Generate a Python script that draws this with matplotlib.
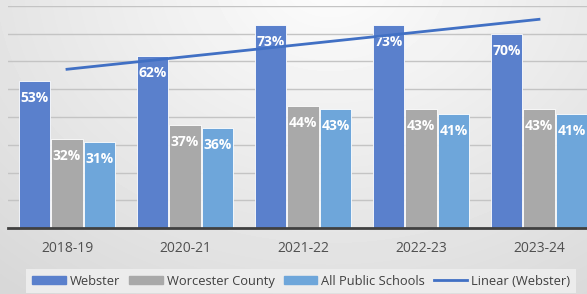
import numpy as np
import matplotlib
matplotlib.use('Agg')
from matplotlib import pyplot as plt
from matplotlib.patches import Patch
from matplotlib.lines import Line2D

plt.rcParams['font.family'] = ['Open Sans', 'DejaVu Sans']

years = ['2018-19', '2020-21', '2021-22', '2022-23', '2023-24']
webster = [53, 62, 73, 73, 70]
worcester = [32, 37, 44, 43, 43]
all_public = [31, 36, 43, 41, 41]

c_web = '#5a80cc'
c_wor = '#a9a9a9'
c_all = '#6ea6da'
c_trend = '#4170c4'

fig = plt.figure(figsize=(5.87, 2.94), dpi=100)

# background gradient
bg = fig.add_axes([0, 0, 1, 1], zorder=0)
yy, xx = np.mgrid[0:294, 0:587]
r = np.sqrt(((xx - 330) / 420.0) ** 2 + ((yy + 20) / 330.0) ** 2)
shade = 0.99 - 0.12 * np.clip(r, 0, 1.2)
bg.imshow(shade, cmap='gray', vmin=0, vmax=1, aspect='auto',
          extent=[0, 1, 0, 1], origin='upper')
bg.axis('off')

ax = fig.add_axes([8 / 587, 66 / 294, 590 / 587, 222 / 294], zorder=1)
ax.patch.set_alpha(0)

x = np.arange(len(years))
w = 0.265
off = 0.275
series = [(webster, c_web, -off), (worcester, c_wor, 0), (all_public, c_all, off)]
for vals, col, dx in series:
    bars = ax.bar(x + dx, vals, w, color=col, edgecolor='white', linewidth=0.6, zorder=2)
    for b, v in zip(bars, vals):
        ax.annotate('%d%%' % v, (b.get_x() + b.get_width() / 2, v),
                    xytext=(0, -17), textcoords='offset pixels',
                    ha='center', va='center', color='white',
                    fontsize=10, fontweight='bold', zorder=3)

# linear trendline of Webster
k, c = np.polyfit(x, webster, 1)
ax.plot(x, k * x + c, color=c_trend, lw=2, zorder=4)

ax.set_xlim(-0.5, 4.5)
ax.set_ylim(0, 80)
ax.set_yticks(np.arange(0, 81, 10))
ax.yaxis.grid(True, color='#c4c4c4', lw=1, zorder=0)
ax.set_axisbelow(True)
ax.tick_params(axis='y', left=False, labelleft=False)
ax.set_xticks(x)
ax.set_xticklabels(years)
ax.tick_params(axis='x', length=0, pad=9, labelsize=10, labelcolor='#505050')
for s in ['top', 'right', 'left']:
    ax.spines[s].set_visible(False)
ax.spines['bottom'].set_color('#404040')
ax.spines['bottom'].set_linewidth(2)

handles = [Patch(color=c_web), Patch(color=c_wor), Patch(color=c_all),
           Line2D([0], [0], color=c_trend, lw=2)]
labels = ['Webster', 'Worcester County', 'All Public Schools', 'Linear (Webster)']
leg = fig.legend(handles, labels, loc='lower left', bbox_to_anchor=(20 / 587, -0.02),
                 ncol=4, fontsize=9.3, frameon=True, fancybox=False,
                 handlelength=2.6, handleheight=0.5, handletextpad=0.3,
                 columnspacing=0.7, borderpad=0.45, labelcolor='#404040')
leg.get_frame().set_facecolor('#ececec')
leg.get_frame().set_edgecolor('none')
leg.get_frame().set_alpha(1)

plt.savefig('out.png', dpi=100)
